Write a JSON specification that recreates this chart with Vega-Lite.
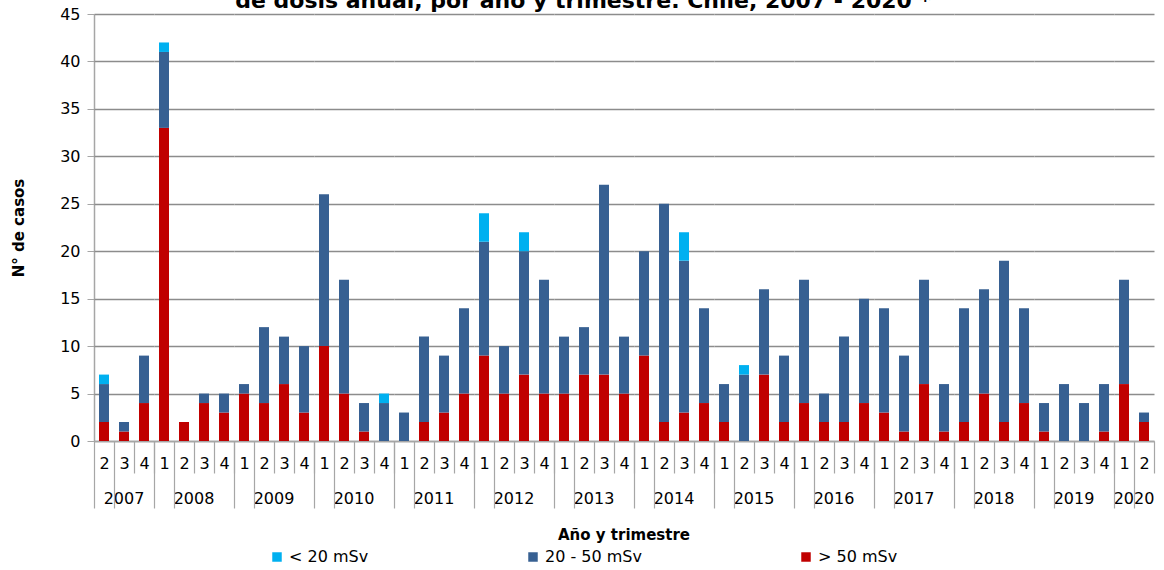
{
  "$schema": "https://vega.github.io/schema/vega-lite/v6.json",
  "padding": {"left": 11, "top": -10, "right": 4, "bottom": 0},
  "bounds": "flush",
  "title": {"text": "de dosis anual, por año y trimestre. Chile, 2007 - 2020 *", "fontSize": 22, "font": "DejaVu Sans", "fontWeight": "bold", "color": "#000000", "anchor": "middle", "offset": -7},
  "data": {"values": [
    {"a":"2007","t":"2","r":"> 50 mSv","n":2,"k":1},{"a":"2007","t":"2","r":"20 - 50 mSv","n":4,"k":2},{"a":"2007","t":"2","r":"< 20 mSv","n":1,"k":3},
    {"a":"2007","t":"3","r":"> 50 mSv","n":1,"k":1},{"a":"2007","t":"3","r":"20 - 50 mSv","n":1,"k":2},
    {"a":"2007","t":"4","r":"> 50 mSv","n":4,"k":1},{"a":"2007","t":"4","r":"20 - 50 mSv","n":5,"k":2},
    {"a":"2008","t":"1","r":"> 50 mSv","n":33,"k":1},{"a":"2008","t":"1","r":"20 - 50 mSv","n":8,"k":2},{"a":"2008","t":"1","r":"< 20 mSv","n":1,"k":3},
    {"a":"2008","t":"2","r":"> 50 mSv","n":2,"k":1},
    {"a":"2008","t":"3","r":"> 50 mSv","n":4,"k":1},{"a":"2008","t":"3","r":"20 - 50 mSv","n":1,"k":2},
    {"a":"2008","t":"4","r":"> 50 mSv","n":3,"k":1},{"a":"2008","t":"4","r":"20 - 50 mSv","n":2,"k":2},
    {"a":"2009","t":"1","r":"> 50 mSv","n":5,"k":1},{"a":"2009","t":"1","r":"20 - 50 mSv","n":1,"k":2},
    {"a":"2009","t":"2","r":"> 50 mSv","n":4,"k":1},{"a":"2009","t":"2","r":"20 - 50 mSv","n":8,"k":2},
    {"a":"2009","t":"3","r":"> 50 mSv","n":6,"k":1},{"a":"2009","t":"3","r":"20 - 50 mSv","n":5,"k":2},
    {"a":"2009","t":"4","r":"> 50 mSv","n":3,"k":1},{"a":"2009","t":"4","r":"20 - 50 mSv","n":7,"k":2},
    {"a":"2010","t":"1","r":"> 50 mSv","n":10,"k":1},{"a":"2010","t":"1","r":"20 - 50 mSv","n":16,"k":2},
    {"a":"2010","t":"2","r":"> 50 mSv","n":5,"k":1},{"a":"2010","t":"2","r":"20 - 50 mSv","n":12,"k":2},
    {"a":"2010","t":"3","r":"> 50 mSv","n":1,"k":1},{"a":"2010","t":"3","r":"20 - 50 mSv","n":3,"k":2},
    {"a":"2010","t":"4","r":"20 - 50 mSv","n":4,"k":2},{"a":"2010","t":"4","r":"< 20 mSv","n":1,"k":3},
    {"a":"2011","t":"1","r":"20 - 50 mSv","n":3,"k":2},
    {"a":"2011","t":"2","r":"> 50 mSv","n":2,"k":1},{"a":"2011","t":"2","r":"20 - 50 mSv","n":9,"k":2},
    {"a":"2011","t":"3","r":"> 50 mSv","n":3,"k":1},{"a":"2011","t":"3","r":"20 - 50 mSv","n":6,"k":2},
    {"a":"2011","t":"4","r":"> 50 mSv","n":5,"k":1},{"a":"2011","t":"4","r":"20 - 50 mSv","n":9,"k":2},
    {"a":"2012","t":"1","r":"> 50 mSv","n":9,"k":1},{"a":"2012","t":"1","r":"20 - 50 mSv","n":12,"k":2},{"a":"2012","t":"1","r":"< 20 mSv","n":3,"k":3},
    {"a":"2012","t":"2","r":"> 50 mSv","n":5,"k":1},{"a":"2012","t":"2","r":"20 - 50 mSv","n":5,"k":2},
    {"a":"2012","t":"3","r":"> 50 mSv","n":7,"k":1},{"a":"2012","t":"3","r":"20 - 50 mSv","n":13,"k":2},{"a":"2012","t":"3","r":"< 20 mSv","n":2,"k":3},
    {"a":"2012","t":"4","r":"> 50 mSv","n":5,"k":1},{"a":"2012","t":"4","r":"20 - 50 mSv","n":12,"k":2},
    {"a":"2013","t":"1","r":"> 50 mSv","n":5,"k":1},{"a":"2013","t":"1","r":"20 - 50 mSv","n":6,"k":2},
    {"a":"2013","t":"2","r":"> 50 mSv","n":7,"k":1},{"a":"2013","t":"2","r":"20 - 50 mSv","n":5,"k":2},
    {"a":"2013","t":"3","r":"> 50 mSv","n":7,"k":1},{"a":"2013","t":"3","r":"20 - 50 mSv","n":20,"k":2},
    {"a":"2013","t":"4","r":"> 50 mSv","n":5,"k":1},{"a":"2013","t":"4","r":"20 - 50 mSv","n":6,"k":2},
    {"a":"2014","t":"1","r":"> 50 mSv","n":9,"k":1},{"a":"2014","t":"1","r":"20 - 50 mSv","n":11,"k":2},
    {"a":"2014","t":"2","r":"> 50 mSv","n":2,"k":1},{"a":"2014","t":"2","r":"20 - 50 mSv","n":23,"k":2},
    {"a":"2014","t":"3","r":"> 50 mSv","n":3,"k":1},{"a":"2014","t":"3","r":"20 - 50 mSv","n":16,"k":2},{"a":"2014","t":"3","r":"< 20 mSv","n":3,"k":3},
    {"a":"2014","t":"4","r":"> 50 mSv","n":4,"k":1},{"a":"2014","t":"4","r":"20 - 50 mSv","n":10,"k":2},
    {"a":"2015","t":"1","r":"> 50 mSv","n":2,"k":1},{"a":"2015","t":"1","r":"20 - 50 mSv","n":4,"k":2},
    {"a":"2015","t":"2","r":"20 - 50 mSv","n":7,"k":2},{"a":"2015","t":"2","r":"< 20 mSv","n":1,"k":3},
    {"a":"2015","t":"3","r":"> 50 mSv","n":7,"k":1},{"a":"2015","t":"3","r":"20 - 50 mSv","n":9,"k":2},
    {"a":"2015","t":"4","r":"> 50 mSv","n":2,"k":1},{"a":"2015","t":"4","r":"20 - 50 mSv","n":7,"k":2},
    {"a":"2016","t":"1","r":"> 50 mSv","n":4,"k":1},{"a":"2016","t":"1","r":"20 - 50 mSv","n":13,"k":2},
    {"a":"2016","t":"2","r":"> 50 mSv","n":2,"k":1},{"a":"2016","t":"2","r":"20 - 50 mSv","n":3,"k":2},
    {"a":"2016","t":"3","r":"> 50 mSv","n":2,"k":1},{"a":"2016","t":"3","r":"20 - 50 mSv","n":9,"k":2},
    {"a":"2016","t":"4","r":"> 50 mSv","n":4,"k":1},{"a":"2016","t":"4","r":"20 - 50 mSv","n":11,"k":2},
    {"a":"2017","t":"1","r":"> 50 mSv","n":3,"k":1},{"a":"2017","t":"1","r":"20 - 50 mSv","n":11,"k":2},
    {"a":"2017","t":"2","r":"> 50 mSv","n":1,"k":1},{"a":"2017","t":"2","r":"20 - 50 mSv","n":8,"k":2},
    {"a":"2017","t":"3","r":"> 50 mSv","n":6,"k":1},{"a":"2017","t":"3","r":"20 - 50 mSv","n":11,"k":2},
    {"a":"2017","t":"4","r":"> 50 mSv","n":1,"k":1},{"a":"2017","t":"4","r":"20 - 50 mSv","n":5,"k":2},
    {"a":"2018","t":"1","r":"> 50 mSv","n":2,"k":1},{"a":"2018","t":"1","r":"20 - 50 mSv","n":12,"k":2},
    {"a":"2018","t":"2","r":"> 50 mSv","n":5,"k":1},{"a":"2018","t":"2","r":"20 - 50 mSv","n":11,"k":2},
    {"a":"2018","t":"3","r":"> 50 mSv","n":2,"k":1},{"a":"2018","t":"3","r":"20 - 50 mSv","n":17,"k":2},
    {"a":"2018","t":"4","r":"> 50 mSv","n":4,"k":1},{"a":"2018","t":"4","r":"20 - 50 mSv","n":10,"k":2},
    {"a":"2019","t":"1","r":"> 50 mSv","n":1,"k":1},{"a":"2019","t":"1","r":"20 - 50 mSv","n":3,"k":2},
    {"a":"2019","t":"2","r":"20 - 50 mSv","n":6,"k":2},
    {"a":"2019","t":"3","r":"20 - 50 mSv","n":4,"k":2},
    {"a":"2019","t":"4","r":"> 50 mSv","n":1,"k":1},{"a":"2019","t":"4","r":"20 - 50 mSv","n":5,"k":2},
    {"a":"2020","t":"1","r":"> 50 mSv","n":6,"k":1},{"a":"2020","t":"1","r":"20 - 50 mSv","n":11,"k":2},
    {"a":"2020","t":"2","r":"> 50 mSv","n":2,"k":1},{"a":"2020","t":"2","r":"20 - 50 mSv","n":1,"k":2}
  ]},
  "facet": {
    "column": {
      "field": "a", "type": "ordinal", "title": "Año y trimestre",
      "header": {
        "labelOrient": "bottom", "titleOrient": "bottom",
        "labelFont": "DejaVu Sans", "labelFontSize": 16, "labelColor": "#000000", "labelPadding": 50,
        "titleFont": "DejaVu Sans", "titleFontSize": 15, "titleFontWeight": "bold", "titleColor": "#000000", "titlePadding": 11
      }
    }
  },
  "spacing": 0,
  "spec": {
    "width": {"step": 20},
    "height": 427,
    "mark": {"type": "bar", "width": {"band": 0.5}},
    "encoding": {
      "x": {
        "field": "t", "type": "ordinal",
        "scale": {"paddingInner": 0, "paddingOuter": 0},
        "axis": {
          "title": null, "labelAngle": 0, "tickBand": "extent",
          "tickSize": {"condition": {"test": "datum.index === 0 || datum.extra", "value": 67}, "value": 32},
          "labelPadding": {"condition": {"test": "datum.index === 0 || datum.extra", "value": -53}, "value": -18},
          "tickColor": "#a6a6a6", "domainColor": "#a6a6a6", "tickWidth": 1.2, "domainWidth": 1.5,
          "labelFont": "DejaVu Sans", "labelFontSize": 16, "labelColor": "#000000"
        }
      },
      "y": {
        "field": "n", "type": "quantitative", "stack": "zero",
        "scale": {"domain": [0, 45]},
        "axis": {
          "title": "N° de casos", "titleFont": "DejaVu Sans", "titleFontSize": 15, "titleFontWeight": "bold", "titleColor": "#000000", "titlePadding": 33,
          "values": [0,5,10,15,20,25,30,35,40,45],
          "labelFont": "DejaVu Sans", "labelFontSize": 16, "labelColor": "#000000", "labelPadding": 7,
          "tickSize": 7, "tickColor": "#a6a6a6", "domainColor": "#a6a6a6", "domainWidth": 1.5,
          "gridColor": "#8c8c8c", "gridWidth": 1.3
        }
      },
      "color": {
        "field": "r", "type": "nominal",
        "scale": {"domain": ["< 20 mSv", "20 - 50 mSv", "> 50 mSv"], "range": ["#00B0F0", "#376092", "#C00000"]},
        "legend": {
          "title": null, "orient": "bottom", "direction": "horizontal", "columns": 3, "columnPadding": 156,
          "symbolType": "square", "symbolSize": 90, "symbolStrokeWidth": 0,
          "labelFont": "DejaVu Sans", "labelFontSize": 16, "labelColor": "#000000", "offset": 6
        }
      },
      "order": {"field": "k", "type": "quantitative"}
    }
  },
  "resolve": {"scale": {"x": "independent"}},
  "config": {
    "view": {"stroke": null}, "font": "DejaVu Sans", "background": "#ffffff",
    "legend": {"layout": {"bottom": {"anchor": "middle"}}}
  }
}
